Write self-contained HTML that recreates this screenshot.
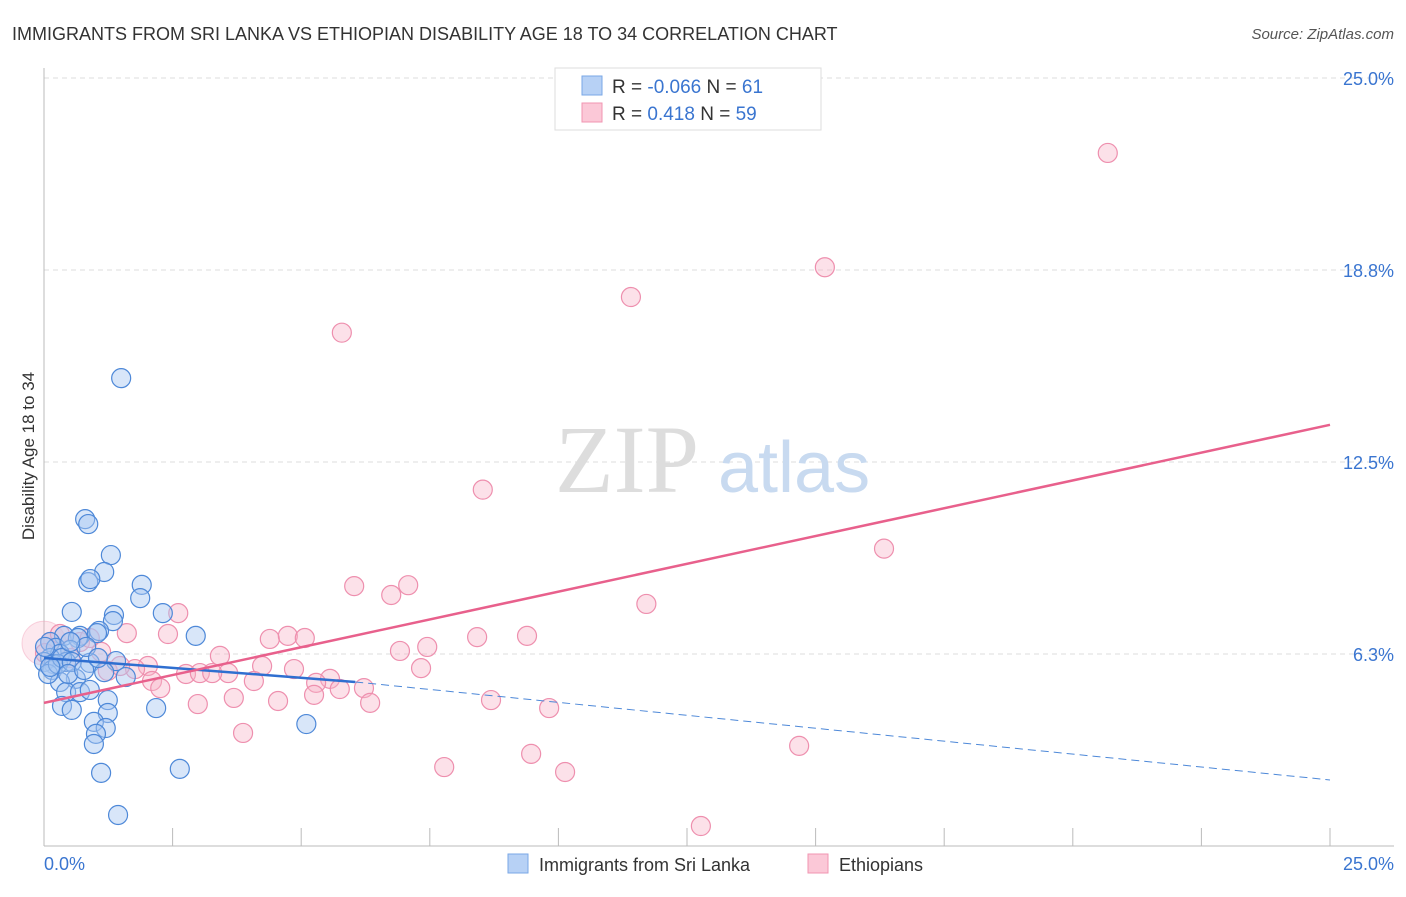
<!DOCTYPE html>
<html><head><meta charset="utf-8"><style>
body{margin:0;background:#fff;font-family:"Liberation Sans",sans-serif}
</style></head><body>
<svg width="1406" height="892" xmlns="http://www.w3.org/2000/svg">
<text x="12" y="40" font-size="18" fill="#333">IMMIGRANTS FROM SRI LANKA VS ETHIOPIAN DISABILITY AGE 18 TO 34 CORRELATION CHART</text>
<text x="1394" y="39" font-size="15" fill="#555" font-style="italic" text-anchor="end">Source: ZipAtlas.com</text>
<g id="grid"></g>
<text x="555" y="492" font-size="96" fill="#ddd" font-family="Liberation Serif">ZIP</text>
<text x="718" y="492" font-size="72" fill="#c8daf0">atlas</text>
<line x1="44" y1="68" x2="44" y2="846" stroke="#bbb"/>
<line x1="44" y1="846" x2="1394" y2="846" stroke="#bbb"/>
<g id="ticks"></g>
<text x="34" y="456" font-size="17" fill="#333" text-anchor="middle" transform="rotate(-90 34 456)">Disability Age 18 to 34</text>
<text x="44" y="870" font-size="18" fill="#3a75d0">0.0%</text>
<text x="1394" y="870" font-size="18" fill="#3a75d0" text-anchor="end">25.0%</text>
<g id="pts"></g>
<g id="trends"></g>
<g>
<rect x="555" y="68" width="266" height="62" fill="#fff" stroke="#ddd"/>
<rect x="582" y="76" width="20" height="19" fill="#b7d1f5" stroke="#7aa7e6"/>
<rect x="582" y="103" width="20" height="19" fill="#fbc8d7" stroke="#f095b2"/>
<text x="612" y="93" font-size="19" fill="#333">R = <tspan fill="#3a75d0">-0.066</tspan>   N =  <tspan fill="#3a75d0">61</tspan></text>
<text x="612" y="120" font-size="19" fill="#333">R =    <tspan fill="#3a75d0">0.418</tspan>   N = <tspan fill="#3a75d0">59</tspan></text>
</g>
<g>
<rect x="508" y="854" width="20" height="19" fill="#b7d1f5" stroke="#7aa7e6"/>
<text x="539" y="871" font-size="18" fill="#333">Immigrants from Sri Lanka</text>
<rect x="808" y="854" width="20" height="19" fill="#fbc8d7" stroke="#f095b2"/>
<text x="839" y="871" font-size="18" fill="#333">Ethiopians</text>
</g>
</svg>
<script>
const yTicks=[6.25,12.5,18.75,25];
const yTickLabels=["6.3%","12.5%","18.8%","25.0%"];
const blueX=[1.5,0.8,0.86,1.3,1.17,1.9,0.86,0.9,1.87,0.54,1.36,2.31,1.34,1.07,0.7,1.03,2.95,0.39,0.66,0.12,0.23,0.51,0.31,0.12,0.43,0.89,1.4,0.19,0,0.16,1.17,1.59,0.62,0.31,0.43,0.7,0.89,1.24,0.35,0.54,2.18,1.24,0.97,1.2,1.01,0.97,5.1,2.64,1.11,1.44,0.08,0.27,0.35,0.54,0.82,0.02,0.12,0.47,0.78,1.05,0.51];
const blueY=[15.23,10.64,10.48,9.47,8.92,8.5,8.59,8.69,8.07,7.62,7.52,7.58,7.32,7,6.84,6.93,6.84,6.84,6.77,6.64,6.45,6.38,6.25,6.12,5.99,5.96,6.02,5.92,5.99,5.73,5.66,5.5,5.44,5.34,5.01,5.01,5.08,4.75,4.56,4.43,4.49,4.33,4.04,3.84,3.65,3.32,3.97,2.51,2.38,1.01,5.6,5.92,6.12,5.99,6.48,6.48,5.83,5.6,5.73,6.12,6.64];
const pinkX=[20.68,15.18,11.41,5.79,8.53,16.33,6.03,7.08,6.75,11.71,2.61,1.61,2.41,4.39,4.74,5.07,8.42,9.39,7.45,6.92,3.42,1.11,2.02,4.24,4.86,7.33,2.76,3.03,3.58,3.27,1.24,1.77,2.1,2.26,4.08,5.56,5.29,6.22,5.75,3.69,2.99,4.55,5.25,6.34,8.69,9.82,3.87,14.68,9.47,7.78,10.13,12.77,0.12,0.7,0.31,0.89,0.51,0.02,1.48];
const pinkY=[22.56,18.84,17.87,16.71,11.6,9.68,8.46,8.49,8.17,7.88,7.58,6.93,6.9,6.74,6.84,6.77,6.8,6.84,6.48,6.35,6.19,6.32,5.86,5.86,5.76,5.79,5.6,5.63,5.63,5.63,5.7,5.76,5.37,5.14,5.37,5.44,5.31,5.14,5.11,4.82,4.62,4.72,4.92,4.66,4.75,4.49,3.68,3.26,3.0,2.57,2.41,0.65,6.64,6.64,6.9,6.77,6.12,6.28,5.86];
const blueTrend=[[0,6.12],[6.05,5.34],[25,2.15]];
const pinkTrend=[[0,4.66],[25,13.71]];
const X0=44,X1=1330,Y0=846,YS=192/6.25;
const sx=v=>X0+v/25*(X1-X0), sy=v=>Y0-v*YS;
const NS='http://www.w3.org/2000/svg';
function mk(t,a,p){const e=document.createElementNS(NS,t);for(const k in a)e.setAttribute(k,a[k]);p.appendChild(e);return e;}
const grid=document.getElementById('grid'),svg=document.querySelector('svg');
yTicks.forEach((t,i)=>{
 const l=mk('line',{x1:44,x2:1394,y1:sy(t),y2:sy(t),stroke:'#ddd','stroke-dasharray':'5,4'},grid);
 
 
 const tx=mk('text',{x:1394,y:sy(t)+7,'font-size':18,fill:'#3a75d0','text-anchor':'end'},grid);
 tx.textContent=yTickLabels[i];
 
 
});
const ticks=document.getElementById('ticks');
for(let i=1;i<=10;i++){const x=44+i*128.6;
 const l=mk('line',{x1:x,x2:x,y1:828,y2:846,stroke:'#bbb'},ticks);
 
 }
const pts=document.getElementById('pts');
const big=mk('circle',{cx:sx(0),cy:sy(6.6),r:22,fill:'#f7b3c8','fill-opacity':0.3,stroke:'#f095b2','stroke-opacity':0.4},pts);


pinkX.forEach((v,i)=>{const c=mk('circle',{cx:sx(v),cy:sy(pinkY[i]),r:9.5,fill:'#f7b3c8','fill-opacity':0.4,stroke:'#ee8fae','stroke-width':1.2},pts);
 
 });
blueX.forEach((v,i)=>{const c=mk('circle',{cx:sx(v),cy:sy(blueY[i]),r:9.5,fill:'#a9c8f2','fill-opacity':0.45,stroke:'#4d88d8','stroke-width':1.2},pts);
 
 });
const tr=document.getElementById('trends');
const b1=mk('line',{x1:sx(blueTrend[0][0]),y1:sy(blueTrend[0][1]),x2:sx(blueTrend[1][0]),y2:sy(blueTrend[1][1]),stroke:'#2f6fd0','stroke-width':2.5},tr);


const b2=mk('line',{x1:sx(blueTrend[1][0]),y1:sy(blueTrend[1][1]),x2:sx(blueTrend[2][0]),y2:sy(blueTrend[2][1]),stroke:'#4d88d8','stroke-width':1,'stroke-dasharray':'8,5'},tr);


const p1=mk('line',{x1:sx(pinkTrend[0][0]),y1:sy(pinkTrend[0][1]),x2:sx(pinkTrend[1][0]),y2:sy(pinkTrend[1][1]),stroke:'#e8608c','stroke-width':2.5},tr);


</script>
</body></html>
